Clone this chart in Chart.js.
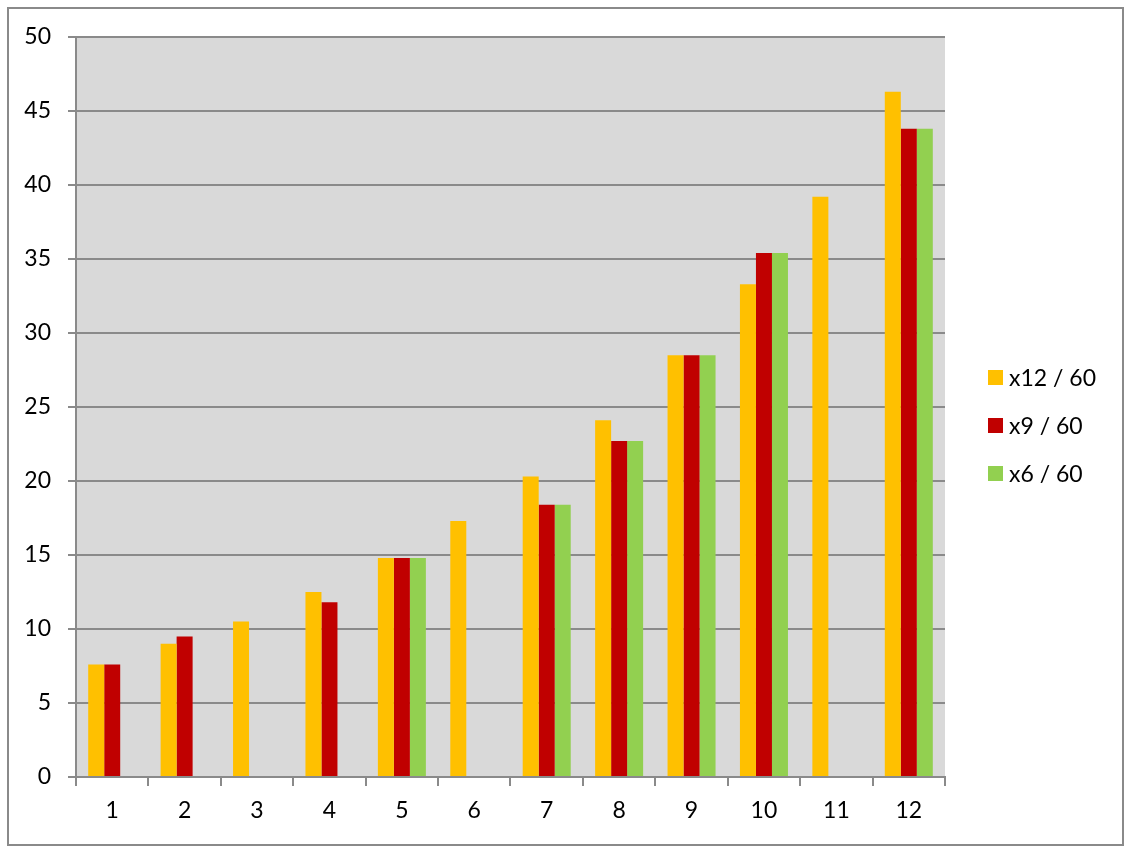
<!DOCTYPE html>
<html>
<head>
<meta charset="utf-8">
<script src="https://cdn.jsdelivr.net/npm/chart.js@4/dist/chart.umd.min.js"></script>
<style>
  html, body { margin: 0; padding: 0; background: #ffffff; }
  #wrap { width: 1131px; height: 855px; position: relative; }
</style>
</head>
<body>
<div id="wrap"><canvas id="c" width="1131" height="855"></canvas></div>
<script>
const categories = ['1', '2', '3', '4', '5', '6', '7', '8', '9', '10', '11', '12'];
const seriesNames = ['x12 / 60', 'x9 / 60', 'x6 / 60'];
const x12 = [7.6, 9.0, 10.5, 12.5, 14.8, 17.3, 20.3, 24.1, 28.5, 33.3, 39.2, 46.3];
const x9  = [7.6, 9.5, null, 11.8, 14.8, null, 18.4, 22.7, 28.5, 35.4, null, 43.8];
const x6  = [null, null, null, null, 14.8, null, 18.4, 22.7, 28.5, 35.4, null, 43.8];
const yMin = 0, yMax = 50, yStep = 5;

const colors = ['#FFC000', '#C00000', '#92D050'];
const FONT = 'Lato, "Open Sans", sans-serif';

const bgPlugin = {
  id: 'bg',
  beforeDraw(chart) {
    const ctx = chart.ctx, a = chart.chartArea;
    ctx.save();
    ctx.fillStyle = '#ffffff';
    ctx.fillRect(0, 0, chart.width, chart.height);
    ctx.fillStyle = '#D9D9D9';
    ctx.fillRect(a.left, a.top, a.right - a.left, a.bottom - a.top);
    ctx.strokeStyle = '#8a8a8a';
    ctx.lineWidth = 2;
    ctx.strokeRect(8, 8, 1115, 837);
    ctx.restore();
  }
};

const legendPlugin = {
  id: 'customLegend',
  afterDraw(chart) {
    const ctx = chart.ctx;
    ctx.save();
    ctx.font = '23px ' + FONT;
    ctx.textBaseline = 'middle';
    ctx.textAlign = 'left';
    chart.data.datasets.forEach((ds, i) => {
      const cy = 377.5 + i * 48;
      ctx.fillStyle = ds.backgroundColor;
      ctx.fillRect(988, cy - 7.5, 15, 15);
      ctx.fillStyle = '#000000';
      ctx.fillText(ds.label, 1009, cy + 1);
    });
    ctx.restore();
  }
};

new Chart(document.getElementById('c'), {
  type: 'bar',
  data: {
    labels: categories,
    datasets: [
      { label: seriesNames[0], data: x12, backgroundColor: colors[0] },
      { label: seriesNames[1], data: x9,  backgroundColor: colors[1] },
      { label: seriesNames[2], data: x6,  backgroundColor: colors[2] }
    ]
  },
  options: {
    responsive: false,
    animation: false,
    devicePixelRatio: 1,
    layout: { padding: { top: 37, right: 186, bottom: 0, left: 0 } },
    datasets: { bar: { categoryPercentage: 0.663, barPercentage: 1.0, borderWidth: 0 } },
    plugins: { legend: { display: false }, tooltip: { enabled: false } },
    scales: {
      x: {
        afterFit(scale) { scale.height = 78; },
        grid: { offset: true, drawOnChartArea: false, drawTicks: true, tickLength: 9, color: '#8a8a8a', lineWidth: 2 },
        border: { display: true, color: '#8a8a8a', width: 2 },
        ticks: { color: '#000000', font: { family: FONT, size: 23 }, padding: 11, maxRotation: 0 }
      },
      y: {
        min: yMin, max: yMax,
        afterFit(scale) { scale.width = 76; },
        grid: { drawOnChartArea: true, drawTicks: true, tickLength: 8, color: '#8a8a8a', lineWidth: 2 },
        border: { display: true, color: '#8a8a8a', width: 2 },
        ticks: { stepSize: yStep, color: '#000000', font: { family: FONT, size: 23 }, padding: 17 }
      }
    }
  },
  plugins: [bgPlugin, legendPlugin]
});
</script>
</body>
</html>
